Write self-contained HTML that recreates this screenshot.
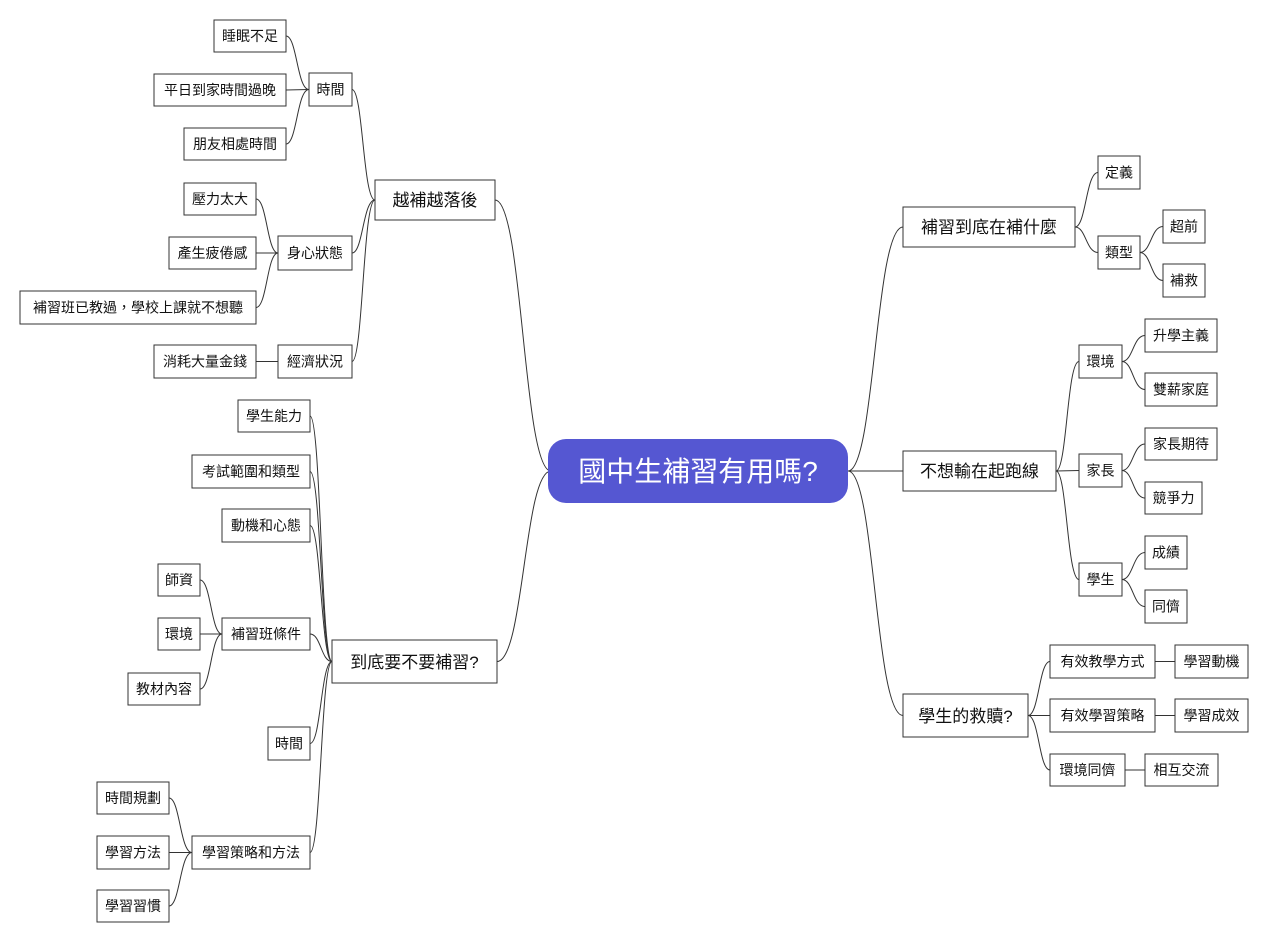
<!DOCTYPE html>
<html><head><meta charset="utf-8"><style>
html,body{margin:0;padding:0;background:#fff;}
svg{display:block;font-family:"Liberation Sans","Noto Sans CJK TC",sans-serif;}
rect.b{fill:#fff;stroke:#333;stroke-width:1;}
path{fill:none;stroke:#333;stroke-width:1;}
text{fill:#111;text-anchor:middle;}
.s{font-size:14px;}
.m{font-size:17px;}
</style></head><body>
<svg width="1269" height="943" viewBox="0 0 1269 943">
<!-- connectors -->
<path d="M551 471 C523 471 523 200 495 200"/>
<path d="M551 471 C524 471 524 661.5 497 661.5"/>
<path d="M848 471 C875 471 875 227 903 227"/>
<path d="M848 471 L903 471"/>
<path d="M848 471 C875 471 875 715.5 903 715.5"/>

<path d="M375 200 C363 200 363 89.5 352 89.5"/>
<path d="M375 200 C363 200 363 253 352 253"/>
<path d="M375 200 C363 200 363 361.5 352 361.5"/>
<path d="M309 89.5 C297 89.5 297 36 286 36"/>
<path d="M309 89.5 L286 90"/>
<path d="M309 89.5 C297 89.5 297 144 286 144"/>
<path d="M278 253 C267 253 267 199 256 199"/>
<path d="M278 253 L256 253"/>
<path d="M278 253 C267 253 267 307.5 256 307.5"/>
<path d="M278 361.5 L256 361.5"/>

<path d="M332 661.5 C321 661.5 321 416 310 416"/>
<path d="M332 661.5 C321 661.5 321 471.5 310 471.5"/>
<path d="M332 661.5 C321 661.5 321 525.5 310 525.5"/>
<path d="M332 661.5 C321 661.5 321 634 310 634"/>
<path d="M332 661.5 C321 661.5 321 743.5 310 743.5"/>
<path d="M332 661.5 C321 661.5 321 852.5 310 852.5"/>
<path d="M222 634 C211 634 211 580 200 580"/>
<path d="M222 634 L200 634"/>
<path d="M222 634 C211 634 211 689 200 689"/>
<path d="M192 852.5 C180 852.5 180 798 169 798"/>
<path d="M192 852.5 L169 852.5"/>
<path d="M192 852.5 C180 852.5 180 906 169 906"/>

<path d="M1075 227 C1086 227 1086 172.5 1098 172.5"/>
<path d="M1075 227 C1086 227 1086 252.5 1098 252.5"/>
<path d="M1140 252.5 C1151 252.5 1151 226.5 1163 226.5"/>
<path d="M1140 252.5 C1151 252.5 1151 280.5 1163 280.5"/>
<path d="M1056 471 C1067 471 1067 361.5 1079 361.5"/>
<path d="M1056 471 L1079 470.5"/>
<path d="M1056 471 C1067 471 1067 579.5 1079 579.5"/>
<path d="M1122 361.5 C1133 361.5 1133 335.5 1145 335.5"/>
<path d="M1122 361.5 C1133 361.5 1133 389.5 1145 389.5"/>
<path d="M1122 470.5 C1133 470.5 1133 444 1145 444"/>
<path d="M1122 470.5 C1133 470.5 1133 498 1145 498"/>
<path d="M1122 579.5 C1133 579.5 1133 552.5 1145 552.5"/>
<path d="M1122 579.5 C1133 579.5 1133 606.5 1145 606.5"/>
<path d="M1028 715.5 C1039 715.5 1039 661.5 1050 661.5"/>
<path d="M1028 715.5 L1050 715.5"/>
<path d="M1028 715.5 C1039 715.5 1039 770 1050 770"/>
<path d="M1155 661.5 L1175 661.5"/>
<path d="M1155 715.5 L1175 715.5"/>
<path d="M1125 770 L1145 770"/>

<!-- center -->
<rect x="548" y="439" width="300" height="64" rx="18" fill="#5557d2"/>
<text x="698" y="481" style="font-size:28px;fill:#fff">國中生補習有用嗎?</text>

<!-- L1 -->
<rect class="b" x="375" y="180" width="120" height="40"/><text class="m" x="435" y="206">越補越落後</text>
<rect class="b" x="332" y="640" width="165" height="43"/><text class="m" x="414.5" y="668">到底要不要補習?</text>
<rect class="b" x="903" y="207" width="172" height="40"/><text class="m" x="989" y="233">補習到底在補什麼</text>
<rect class="b" x="903" y="451" width="153" height="40"/><text class="m" x="979.5" y="477">不想輸在起跑線</text>
<rect class="b" x="903" y="694" width="125" height="43"/><text class="m" x="965.5" y="722">學生的救贖?</text>

<!-- left top -->
<rect class="b" x="309" y="73" width="43" height="33"/><text class="s" x="330.5" y="94.5">時間</text>
<rect class="b" x="278" y="236" width="74" height="34"/><text class="s" x="315" y="258">身心狀態</text>
<rect class="b" x="278" y="345" width="74" height="33"/><text class="s" x="315" y="366.5">經濟狀況</text>
<rect class="b" x="214" y="20" width="72" height="32"/><text class="s" x="250" y="41">睡眠不足</text>
<rect class="b" x="154" y="74" width="132" height="32"/><text class="s" x="220" y="95">平日到家時間過晚</text>
<rect class="b" x="184" y="128" width="102" height="32"/><text class="s" x="235" y="149">朋友相處時間</text>
<rect class="b" x="184" y="183" width="72" height="32"/><text class="s" x="220" y="204">壓力太大</text>
<rect class="b" x="169" y="237" width="87" height="32"/><text class="s" x="212.5" y="258">產生疲倦感</text>
<rect class="b" x="20" y="291" width="236" height="33"/><text class="s" x="138" y="312.5">補習班已教過，學校上課就不想聽</text>
<rect class="b" x="154" y="345" width="102" height="33"/><text class="s" x="205" y="366.5">消耗大量金錢</text>

<!-- left bottom -->
<rect class="b" x="238" y="400" width="72" height="32"/><text class="s" x="274" y="421">學生能力</text>
<rect class="b" x="192" y="455" width="118" height="33"/><text class="s" x="251" y="476.5">考試範圍和類型</text>
<rect class="b" x="222" y="509" width="88" height="33"/><text class="s" x="266" y="530.5">動機和心態</text>
<rect class="b" x="222" y="618" width="88" height="32"/><text class="s" x="266" y="639">補習班條件</text>
<rect class="b" x="158" y="564" width="42" height="32"/><text class="s" x="179" y="585">師資</text>
<rect class="b" x="158" y="618" width="42" height="32"/><text class="s" x="179" y="639">環境</text>
<rect class="b" x="128" y="673" width="72" height="32"/><text class="s" x="164" y="694">教材內容</text>
<rect class="b" x="268" y="727" width="42" height="33"/><text class="s" x="289" y="748.5">時間</text>
<rect class="b" x="192" y="836" width="118" height="33"/><text class="s" x="251" y="857.5">學習策略和方法</text>
<rect class="b" x="97" y="782" width="72" height="32"/><text class="s" x="133" y="803">時間規劃</text>
<rect class="b" x="97" y="836" width="72" height="33"/><text class="s" x="133" y="857.5">學習方法</text>
<rect class="b" x="97" y="890" width="72" height="32"/><text class="s" x="133" y="911">學習習慣</text>

<!-- right -->
<rect class="b" x="1098" y="156" width="42" height="33"/><text class="s" x="1119" y="177.5">定義</text>
<rect class="b" x="1098" y="236" width="42" height="33"/><text class="s" x="1119" y="257.5">類型</text>
<rect class="b" x="1163" y="210" width="42" height="33"/><text class="s" x="1184" y="231.5">超前</text>
<rect class="b" x="1163" y="264" width="42" height="33"/><text class="s" x="1184" y="285.5">補救</text>
<rect class="b" x="1079" y="345" width="43" height="33"/><text class="s" x="1100.5" y="366.5">環境</text>
<rect class="b" x="1145" y="319" width="72" height="33"/><text class="s" x="1181" y="340.5">升學主義</text>
<rect class="b" x="1145" y="373" width="72" height="33"/><text class="s" x="1181" y="394.5">雙薪家庭</text>
<rect class="b" x="1079" y="454" width="43" height="33"/><text class="s" x="1100.5" y="475.5">家長</text>
<rect class="b" x="1145" y="428" width="72" height="32"/><text class="s" x="1181" y="449">家長期待</text>
<rect class="b" x="1145" y="482" width="57" height="32"/><text class="s" x="1173.5" y="503">競爭力</text>
<rect class="b" x="1079" y="563" width="43" height="33"/><text class="s" x="1100.5" y="584.5">學生</text>
<rect class="b" x="1145" y="536" width="42" height="33"/><text class="s" x="1166" y="557.5">成績</text>
<rect class="b" x="1145" y="590" width="42" height="33"/><text class="s" x="1166" y="611.5">同儕</text>
<rect class="b" x="1050" y="645" width="105" height="33"/><text class="s" x="1102.5" y="666.5">有效教學方式</text>
<rect class="b" x="1175" y="645" width="73" height="33"/><text class="s" x="1211.5" y="666.5">學習動機</text>
<rect class="b" x="1050" y="699" width="105" height="33"/><text class="s" x="1102.5" y="720.5">有效學習策略</text>
<rect class="b" x="1175" y="699" width="73" height="33"/><text class="s" x="1211.5" y="720.5">學習成效</text>
<rect class="b" x="1050" y="754" width="75" height="32"/><text class="s" x="1087.5" y="775">環境同儕</text>
<rect class="b" x="1145" y="754" width="73" height="32"/><text class="s" x="1181.5" y="775">相互交流</text>
</svg>
</body></html>
